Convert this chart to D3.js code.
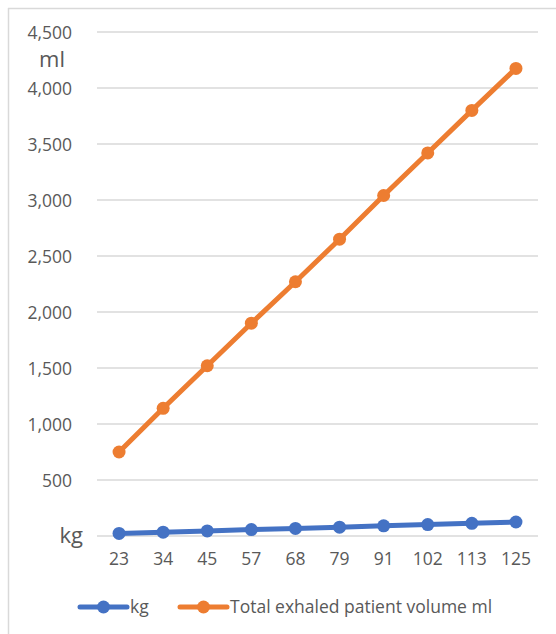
<!DOCTYPE html>
<html>
<head>
<meta charset="utf-8">
<script src="https://cdn.jsdelivr.net/npm/d3@7/dist/d3.min.js"></script>
<style>
  html, body { margin: 0; padding: 0; background: #fff; }
  svg { display: block; }
  text { font-family: "Open Sans", "Noto Sans", sans-serif; fill: #595959; }
</style>
</head>
<body>
<svg id="chart" width="556" height="634"></svg>
<script>
// Patient weight categories (x axis)
const categories = ["23", "34", "45", "57", "68", "79", "91", "102", "113", "125"];
// Series: weight in kg
const kgValues = [23, 34, 45, 57, 68, 79, 91, 102, 113, 125];
// Series: total exhaled patient volume in ml
const volumeValues = [750, 1140, 1520, 1900, 2270, 2650, 3040, 3420, 3800, 4175];
// Y axis ticks
const yTicks = [0, 500, 1000, 1500, 2000, 2500, 3000, 3500, 4000, 4500];
const seriesNames = ["kg", "Total exhaled patient volume ml"];
const colors = ["#4472C4", "#ED7D31"];

const svg = d3.select("#chart");
const W = 556, H = 634;
const plot = { left: 97, right: 538, top: 32, bottom: 536 };
const fs = 17.5;

// outer frame (left and top edges)
svg.append("line").attr("x1", 8.5).attr("x2", 8.5).attr("y1", 8).attr("y2", H)
  .attr("stroke", "#D9D9D9").attr("stroke-width", 1.5);
svg.append("line").attr("x1", 8).attr("x2", W).attr("y1", 8.5).attr("y2", 8.5)
  .attr("stroke", "#D9D9D9").attr("stroke-width", 1.5);

const x = d3.scaleBand().domain(categories).range([plot.left, plot.right]);
const y = d3.scaleLinear().domain([0, 4500]).range([plot.bottom, plot.top]);

// gridlines
svg.append("g").selectAll("line").data(yTicks).join("line")
  .attr("x1", plot.left).attr("x2", plot.right)
  .attr("y1", d => y(d)).attr("y2", d => y(d))
  .attr("stroke", "#D9D9D9").attr("stroke-width", 1.5);

// y axis labels (0 is replaced by the "kg" unit label)
const fmt = d3.format(",");
const yAxis = d3.axisLeft(y).tickValues(yTicks.filter(d => d > 0))
  .tickFormat(fmt).tickSize(0).tickPadding(0);
const yg = svg.append("g").attr("transform", "translate(72,0)").call(yAxis);
yg.select(".domain").remove();
yg.selectAll("text").attr("font-size", fs).style("fill", "#595959")
  .attr("font-family", "Open Sans, sans-serif").attr("dy", "0.35em");

// unit labels
svg.append("text").attr("x", 52).attr("y", 67).attr("text-anchor", "middle")
  .attr("font-size", 22).text("ml");
svg.append("text").attr("x", 83).attr("y", 543).attr("text-anchor", "end")
  .attr("font-size", 22).text("kg");

// x axis labels
const xAxis = d3.axisBottom(x).tickSize(0).tickPadding(0);
const xg = svg.append("g").attr("transform", `translate(0,${plot.bottom + 29})`).call(xAxis);
xg.select(".domain").remove();
xg.selectAll("text").attr("font-size", fs).style("fill", "#595959")
  .attr("font-family", "Open Sans, sans-serif").attr("dy", "0");

// series
const cx = c => x(c) + x.bandwidth() / 2;
const line = d3.line().x(d => cx(d.c)).y(d => y(d.v));
[kgValues, volumeValues].forEach((vals, i) => {
  const data = categories.map((c, j) => ({ c, v: vals[j] }));
  const g = svg.append("g");
  g.append("path").datum(data).attr("d", line)
    .attr("fill", "none").attr("stroke", colors[i]).attr("stroke-width", 5)
    .attr("stroke-linejoin", "round").attr("stroke-linecap", "round");
  g.selectAll("circle").data(data).join("circle")
    .attr("cx", d => cx(d.c)).attr("cy", d => y(d.v)).attr("r", 6.5)
    .attr("fill", colors[i]);
});

// legend
const legendX = [80, 180];
const legendY = 607;
seriesNames.forEach((name, i) => {
  const g = svg.append("g").attr("transform", `translate(${legendX[i]},${legendY})`);
  g.append("line").attr("x1", 0).attr("x2", 47).attr("y1", 0).attr("y2", 0)
    .attr("stroke", colors[i]).attr("stroke-width", 5).attr("stroke-linecap", "round");
  g.append("circle").attr("cx", 23.5).attr("cy", 0).attr("r", 6.5).attr("fill", colors[i]);
  g.append("text").attr("x", 50).attr("y", 0).attr("dy", "0.35em")
    .attr("font-size", fs).text(name);
});
</script>
</body>
</html>
